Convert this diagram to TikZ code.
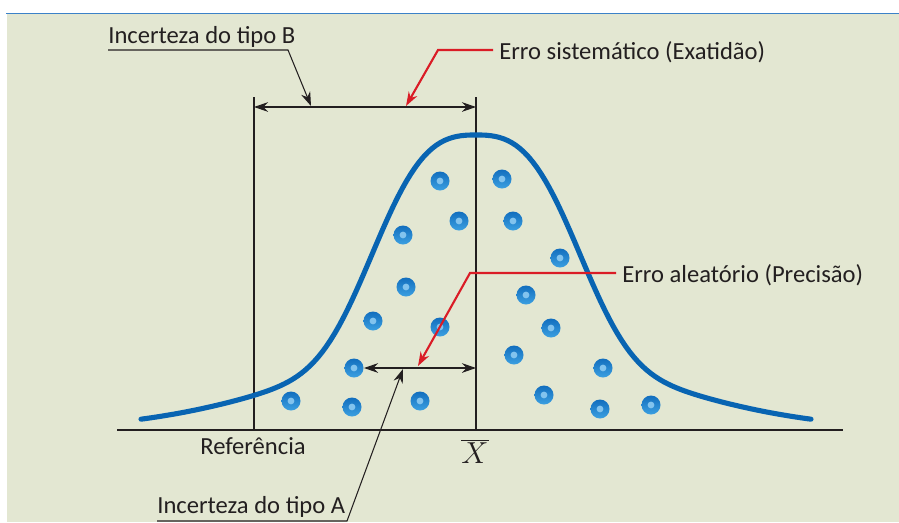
\documentclass[tikz,border=0pt]{standalone}
\usepackage{fontspec}
\setmainfont{Carlito}
\usetikzlibrary{arrows.meta}
\definecolor{panelbg}{RGB}{227,231,210}
\definecolor{topline}{RGB}{60,130,200}
\definecolor{curveblue}{RGB}{8,100,178}
\definecolor{errred}{RGB}{218,28,38}
\definecolor{dotdark}{RGB}{18,110,190}
\definecolor{dotmid}{RGB}{60,160,225}
\definecolor{dotlight}{RGB}{130,195,238}
\definecolor{ink}{RGB}{35,31,32}
\tikzset{
  lbl/.style={font=\fontsize{14}{16}\selectfont, text=ink, inner sep=0pt},
  leader/.style={draw=ink, line width=0.6pt},
  dimline/.style={leader, {Stealth[length=8pt,width=5.5pt]}-{Stealth[length=8pt,width=5.5pt]}},
  pointer/.style={leader, -{Stealth[length=8pt,width=5.5pt]}},
  redpointer/.style={draw=errred, line width=1.2pt, -{Stealth[length=8pt,width=5.5pt]}},
  gauss/.style={draw=curveblue, line width=2.9pt, line cap=round},
  axisline/.style={draw=ink, line width=1.4pt}
}
\begin{document}
\begin{tikzpicture}[x=0.02cm,y=-0.02cm]
\useasboundingbox (0,0) rectangle (899,522);
% panel
\fill[white] (0,0) rectangle (899,522);
\fill[panelbg] (7,14) rectangle (899,522);
\draw[topline, line width=0.9pt] (6,13.5) -- (899,13.5);

% reference and mean
\coordinate (refTop) at (254,97);
\coordinate (refBot) at (254,430);
\coordinate (meanTop) at (476,97);
\coordinate (meanBot) at (476,430);
\draw[leader] (refTop) -- (refBot);
\draw[leader] (meanTop) -- (meanBot);

% distribution
\draw[gauss] plot[domain=-335:335, samples=160]
  ({476+\x}, {430-210*exp(-(abs(\x)/118)^3)-85*exp(-0.5*(\x/165)*(\x/165))});

% measurements
\foreach \px/\py in {440/181, 459/221, 403/235, 406/287, 373/321, 440/327, 354/368,
                    291/401, 352/407, 420/401, 502/179, 513/221, 560/258, 526/295,
                    551/328, 514/355, 603/368, 544/395, 600/409, 651/405}
  {\shade[top color=dotdark, bottom color=dotmid] (\px,\py) circle (9.5);
   \fill[dotlight] (\px,\py) circle (3.4);}

\draw[axisline] (117,430) -- (843,430);

% type B
\coordinate (dimBL) at (254,107);
\coordinate (dimBR) at (476,107);
\draw[dimline] (dimBL) -- (dimBR);
\node[lbl, anchor=base west] (tipoB) at (108,43) {Incerteza do tipo B};
\coordinate (kneeB) at (288,50);
\coordinate (tipB) at (311,106);
\draw[pointer] (tipoB.base west |- kneeB) -- (kneeB) -- (tipB);

\node[lbl, anchor=base west] (sistematico) at (499,59) {Erro sistemático (Exatidão)};
\coordinate (kneeSis) at (438,50);
\coordinate (tipSis) at (406,106);
\draw[redpointer] (493,50) -- (kneeSis) -- (tipSis);

% type A
\coordinate (dimAL) at (364,368);
\coordinate (dimAR) at (476,368);
\draw[dimline] (dimAL) -- (dimAR);
\node[lbl, anchor=base west] (aleatorio) at (622,282) {Erro aleatório (Precisão)};
\coordinate (kneeAle) at (470,273);
\coordinate (tipAle) at (418,366);
\draw[redpointer] (616,273) -- (kneeAle) -- (tipAle);

\node[lbl, anchor=base west] (tipoA) at (157,513) {Incerteza do tipo A};
\coordinate (kneeA) at (347,521);
\coordinate (tipA) at (403,369);
\draw[pointer] (tipoA.base west |- kneeA) -- (kneeA) -- (tipA);

% axis labels
\node[lbl, anchor=base] (referencia) at (253,454) {Referência};
\node[font=\fontsize{16}{18}\selectfont, text=ink, inner sep=0pt] (xbar) at (475,451) {$\overline{X}$};
\end{tikzpicture}
\end{document}
